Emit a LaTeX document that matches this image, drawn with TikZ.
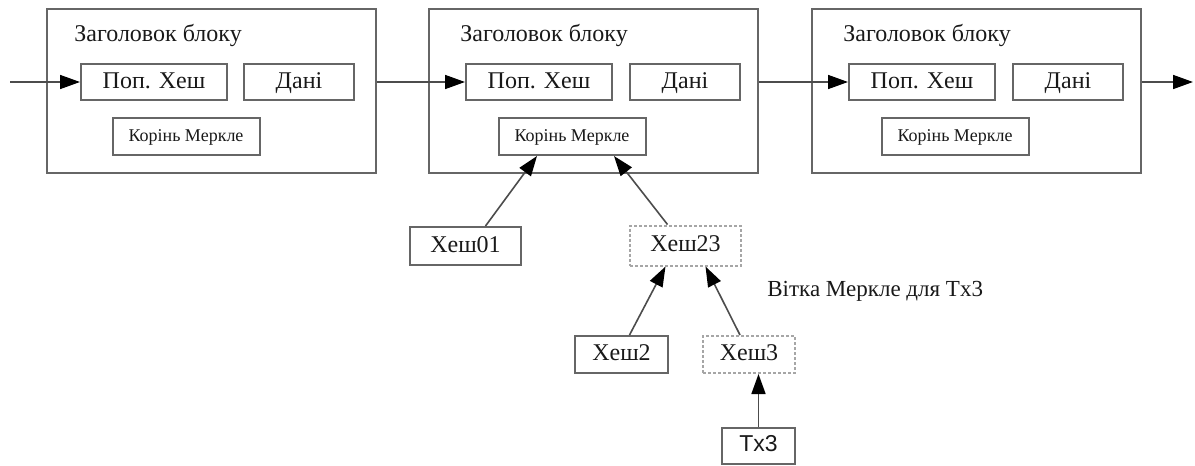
\documentclass[tikz,border=0pt]{standalone}
\usepackage{fontspec}
\setmainfont{Liberation Serif}
\newfontfamily\txfont{Liberation Sans}
\usepackage{tikz}
\usetikzlibrary{arrows.meta}

\begin{document}
\begin{tikzpicture}[x=0.5pt,y=-0.5pt,
    blockbox/.style={draw=black!60, line width=1pt, inner sep=0pt,
      minimum width=164.5pt, minimum height=82pt},
    blocktitle/.style={anchor=base west, inner sep=0pt, text=black!90,
      font=\fontsize{12}{14}\selectfont},
    field/.style={draw=black!60, line width=1pt, inner sep=0pt, text=black!90,
      minimum height=18pt, text height=8.5pt, text depth=2.5pt,
      font=\fontsize{12}{14}\selectfont},
    rootbox/.style={field, minimum width=73.5pt, minimum height=18.5pt,
      text height=6.5pt, text depth=2pt, font=\fontsize{9}{11}\selectfont},
    branch/.style={field, draw=black!35, dash pattern=on 1.5pt off 1pt},
    link/.style={draw=black!70, line width=0.8pt,
      -{Triangle[length=10pt,width=7pt,color=black]}}]
  \useasboundingbox (0,0) rectangle (1195,466);

  % chain of three block headers
  \begin{scope}[shift={(47,0)}]
    \node[blockbox] (blk1) at (164.5,91) {};
    \node[blocktitle] (title1) at (27,41) {Заголовок блоку};
    \node[field, minimum width=73pt] (prev1) at (107,82) {Поп. Хеш};
    \node[field, minimum width=55pt] (data1) at (252,82) {Дані};
    \node[rootbox] (root1) at (139,136.5) {Корінь Меркле};
  \end{scope}
  \begin{scope}[shift={(429,0)}]
    \node[blockbox] (blk2) at (164.5,91) {};
    \node[blocktitle] (title2) at (31,41) {Заголовок блоку};
    \node[field, minimum width=73pt] (prev2) at (110,82) {Поп. Хеш};
    \node[field, minimum width=55pt] (data2) at (256,82) {Дані};
    \node[rootbox] (root2) at (143,136.5) {Корінь Меркле};
  \end{scope}
  \begin{scope}[shift={(812,0)}]
    \node[blockbox] (blk3) at (164.5,91) {};
    \node[blocktitle] (title3) at (31,41) {Заголовок блоку};
    \node[field, minimum width=73pt] (prev3) at (110,82) {Поп. Хеш};
    \node[field, minimum width=55pt] (data3) at (256,82) {Дані};
    \node[rootbox] (root3) at (143,136.5) {Корінь Меркле};
  \end{scope}

  \coordinate (in) at (10,82);
  \coordinate (out) at (1193,82);
  \draw[link] (in) -- (prev1);
  \draw[link] (blk1.east |- prev2) -- (prev2);
  \draw[link] (blk2.east |- prev3) -- (prev3);
  \draw[link] (blk3.east |- out) -- (out);

  % merkle branch under the middle block
  \node[field, minimum width=55.5pt, minimum height=19pt] (h01) at (465.5,246) {Хеш01};
  \node[branch, minimum width=55.5pt, minimum height=20pt] (h23) at (685.5,245.5) {Хеш23};
  \node[field, minimum width=46.5pt, minimum height=18.5pt] (h2) at (621.5,354.5) {Хеш2};
  \node[branch, minimum width=46pt, minimum height=18.5pt] (h3) at (749,354.5) {Хеш3};
  \node[field, minimum width=36.5pt, minimum height=18pt,
    font=\txfont\fontsize{11.5}{13}\selectfont] (tx3) at (758.5,445.5) {Tx3};
  \node[anchor=west, inner sep=0pt, text=black!90,
    font=\fontsize{11.5}{13}\selectfont] (lbl) at (767,291) {Вітка Меркле для Tx3};

  \draw[link] ([xshift=10pt]h01.north) -- ([xshift=-17.5pt]root2.south);
  \draw[link] ([xshift=-9pt]h23.north) -- ([xshift=21pt]root2.south);
  \draw[link] ([xshift=4pt]h2.north) -- ([xshift=-10pt]h23.south);
  \draw[link] ([xshift=-4.5pt]h3.north) -- ([xshift=10pt]h23.south);
  \draw[link] (tx3) -- (tx3 |- h3.south);
\end{tikzpicture}
\end{document}
